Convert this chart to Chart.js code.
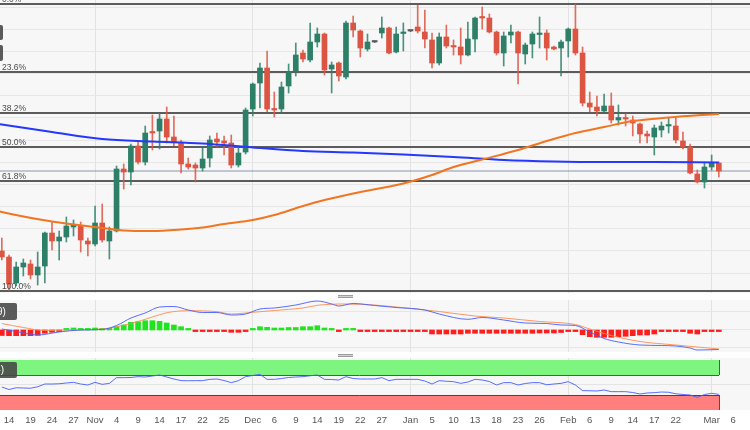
<!DOCTYPE html>
<html>
<head>
<meta charset="utf-8">
<script src="https://cdn.jsdelivr.net/npm/chart.js@4.4.1/dist/chart.umd.min.js"></script>
<style>
html,body{margin:0;padding:0;background:#fff;width:750px;height:430px;overflow:hidden;position:relative;font-family:"Liberation Sans",Arial,sans-serif}
canvas{position:absolute;left:0}
#cMain{top:0}
#cMacd{top:300px}
#cRsi{top:358px}
.handle{position:absolute;left:338px;width:15px;height:1px;border-top:1px solid #9c9c9c;border-bottom:1px solid #9c9c9c;background:#d2d2d2}
.tag{position:absolute;box-sizing:border-box;background:rgba(70,70,70,0.88);color:#fff;font-size:10px;white-space:nowrap;text-align:right;border-radius:2px;overflow:hidden}
</style>
</head>
<body>
<canvas id="cMain" width="750" height="293"></canvas>
<canvas id="cMacd" width="750" height="52"></canvas>
<canvas id="cRsi" width="750" height="72"></canvas>
<div class="handle" style="top:295px"></div>
<div class="handle" style="top:354px"></div>
<div class="tag" style="left:-77px;top:25px;width:80px;height:15px;line-height:15px;padding-right:6px">SMA (100)</div>
<div class="tag" style="left:-77px;top:45px;width:80px;height:16px;line-height:16px;padding-right:6px">SMA (200)</div>
<div class="tag" style="left:-72px;top:303px;width:89px;height:17px;line-height:17px;padding-right:13px">MACD (12, 26, 9)</div>
<div class="tag" style="left:-50px;top:362px;width:67px;height:16px;line-height:16px;padding-right:13px">RSI (14)</div>
<script>
// ---------------- DATA ----------------
const firstDay = '2022-10-13';            // first visible daily candle
const tickDates = ['2022-10-14','2022-10-19','2022-10-24','2022-10-27','2022-11-01','2022-11-04','2022-11-09','2022-11-14','2022-11-17','2022-11-22','2022-11-25','2022-12-01','2022-12-06','2022-12-09','2022-12-14','2022-12-19','2022-12-22','2022-12-27','2023-01-02','2023-01-05','2023-01-10','2023-01-13','2023-01-18','2023-01-23','2023-01-26','2023-02-01','2023-02-06','2023-02-09','2023-02-14','2023-02-17','2023-02-22','2023-03-01','2023-03-06'];
const tickLabels = ['14','19','24','27','Nov','4','9','14','17','22','25','Dec','6','9','14','19','22','27','Jan','5','10','13','18','23','26','Feb','6','9','14','17','22','Mar','6'];

const opens = [1078,1066,1014,1046,1052,1030,1048,1114,1098,1106,
 1126,1128,1098,1092,1134,1098,1118,1242,1236,1288,
 1256,1316,1318,1342,1306,1294,1252,1250,1244,1264,
 1302,1298,1294,1250,1276,1362,1414,1444,1362,1362,
 1408,1438,1474,1460,1496,1512,1442,1454,1426,1534,
 1518,1482,1496,1514,1524,1476,1513,1518,1526,1516,
 1500,1454,1506,1488,1486,1470,1502,1546,1544,1516,
 1474,1510,1516,1472,1492,1511,1514,1486,1484,1498,
 1522,1474,1374,1366,1358,1368,1340,1344,1340,1332,
 1312,1306,1320,1328,1328,1298,1286,1232,1216,1246,
 1254];
const highs = [1104,1070,1056,1062,1060,1076,1116,1136,1118,1146,
 1140,1136,1104,1168,1172,1126,1248,1252,1292,1296,
 1328,1350,1354,1366,1348,1300,1264,1254,1284,1308,
 1314,1308,1310,1286,1364,1414,1454,1478,1396,1416,
 1452,1494,1480,1534,1524,1514,1456,1456,1538,1548,
 1520,1512,1498,1546,1526,1526,1534,1519,1570,1560,
 1514,1514,1530,1500,1524,1536,1546,1566,1552,1518,
 1516,1530,1518,1494,1516,1546,1520,1488,1500,1524,
 1572,1486,1396,1388,1392,1394,1370,1352,1348,1334,
 1318,1330,1336,1344,1344,1316,1292,1240,1254,1270,
 1256];
const lows = [1060,999,1008,1028,1022,1010,1014,1080,1060,1096,
 1108,1076,1068,1088,1096,1062,1116,1202,1210,1252,
 1250,1280,1282,1294,1288,1234,1242,1216,1238,1246,
 1286,1270,1244,1246,1272,1348,1364,1356,1346,1354,
 1394,1428,1456,1456,1486,1430,1394,1418,1422,1506,
 1466,1478,1495,1504,1472,1474,1478,1517,1514,1484,
 1444,1450,1484,1470,1452,1468,1476,1522,1514,1470,
 1448,1494,1412,1452,1464,1484,1460,1480,1428,1466,
 1470,1368,1356,1348,1356,1334,1330,1328,1308,1294,
 1294,1270,1306,1314,1294,1282,1232,1214,1204,1240,
 1226];
const closes = [1066,1012,1046,1054,1030,1046,1114,1098,1106,1128,
 1130,1100,1092,1134,1100,1118,1242,1236,1288,1256,
 1314,1314,1342,1306,1296,1252,1246,1244,1262,1300,
 1296,1294,1250,1274,1360,1412,1444,1362,1360,1406,
 1436,1470,1462,1496,1512,1440,1450,1428,1534,1520,
 1484,1496,1496,1524,1474,1512,1515,1518,1518,1502,
 1454,1506,1488,1486,1470,1502,1544,1544,1516,1474,
 1508,1516,1474,1490,1512,1513,1484,1482,1496,1522,
 1474,1374,1366,1358,1368,1340,1345,1342,1334,1312,
 1308,1324,1328,1330,1300,1286,1234,1216,1246,1254,
 1238];

// moving averages (bar index -> value)
const sma200Idx = [-1,0,7,14,21,28,35,42,49,56,63,70,77,84,91,100];
const sma200 = [1333,1331,1316,1302,1297,1293,1285,1278,1275,1271,1266,1260,1257,1256,1256,1255];
const sma100Idx = [-1,0,7,14,17,21,25,28,31,35,38,42,45,49,56,60,63,67,72,76,80,84,88,93,100];
const sma100 = [1160,1156,1137,1124,1119,1118,1121,1125,1132,1140,1150,1168,1180,1193,1213,1230,1246,1261,1280,1298,1314,1326,1338,1345,1352];

const fibRatios = [0, 0.236, 0.382, 0.5, 0.618, 1];
const fibLabels = ['0.0%','23.6%','38.2%','50.0%','61.8%','100.0%'];

// MACD panel
const macdIdx = [0,2,5,8,11,14,16,18,20,22,24,26,28,30,32,34,36,38,41,44,46,47,49,52,55,59,61,65,67,70,73,76,78,80,82,84,86,89,92,94,96,97,100];
const macdLine = [1,-1.5,-5,-2,0,0.5,4.5,12,17,23,23.5,20,17.5,17.5,15,16,21,22,25,29,26,24,26.5,24.5,22.5,20,16,10.7,12.5,10,7,6.5,5,4.5,-2,-8.5,-12,-15,-15.5,-16,-18,-20,-19.5];
const signalIdx = [0,3,6,9,14,18,21,23,26,30,32,35,38,42,44,48,52,57,61,66,70,75,80,82,85,89,94,100];
const signalLine = [6.5,2.5,-0.5,0,1,6.5,13,17.3,19.3,18.3,16,17.7,19.5,22,24.7,26,25,21.5,18.5,14,12,8.5,5.5,1,-5.5,-11.5,-15,-19];
const macdHist = [-5.5,-5.7,-5.7,-5.7,-5.7,-5.3,-3.3,-2.3,-1,1.5,
 2,1.5,1.5,2,1.5,1.5,3.3,5,7.7,8.3,
 9.3,9.3,8.7,7,5,3.3,1,-0.5,-0.5,-0.5,
 -0.5,-1,-2.3,-2.3,-0.5,1,3.3,2.7,2,2,
 2.5,2.5,3.3,3.3,4.3,2,0.5,-0.5,0.5,0.5,
 -0.5,-0.5,-0.5,-0.5,-0.5,-0.5,-0.5,-0.5,-0.5,-0.5,
 -4,-4,-4,-4,-4,-3.3,-3.3,-3.3,-3.3,-3.3,
 -3.3,-3.3,-3.3,-3.3,-3.3,-3,-3,-3,-2.5,-1,
 -0.5,-4.7,-6.7,-7.3,-7.3,-7.3,-6.7,-6.3,-5.7,-5,
 -5,-4,-1,-1,-1,-1,-3.3,-4,-1,-1,
 -1];

// RSI panel
const rsi = [46,41,44.5,44,43.5,46.5,52,52,52.5,54,
 55.3,52,50,55.3,51.3,53.3,64.7,64.7,65,66.7,
 66,68,70,66,62,58.7,58.5,58.7,58.7,61.3,
 62,59,54.7,58.7,66.7,69,71.3,61.3,61.3,63,
 65,66,66.7,68.5,70,61.3,61,60,66.7,63,
 62,62,62,64.7,58.7,61.3,61.3,61.3,61.3,58,
 52,58.7,57.5,56.7,53.3,56,61.3,60,57,50,
 54.7,54.7,50,53,54.7,54.7,50.5,52,53.3,56.7,
 50,38.7,38.5,38,40,36.7,36.7,36.7,35,32,
 34,34.7,36,35.5,32.5,31,30,25.3,31,33.3,
 31.3];
const rsiUpper = [70, 100];
const rsiLower = [0, 30];

// ---------------- STYLE / LAYOUT ----------------
const X_MIN = -0.255, X_MAX = 104.35;
const PLOT_BG = '#f7f7f7';
const UP = '#2d7f67', DOWN = '#dc5542', DOJI = '#5a5a5a';
const UP_W = 'rgba(45,127,103,0.85)', DOWN_W = 'rgba(220,85,66,0.85)';
Chart.defaults.font.family = '"Liberation Sans", Arial, sans-serif';

// build trading-day list
const dayList = [];
{
  const d = new Date(firstDay + 'T00:00:00Z');
  while (dayList.length < 110) {
    const wd = d.getUTCDay();
    if (wd !== 0 && wd !== 6) dayList.push(d.toISOString().slice(0, 10));
    d.setUTCDate(d.getUTCDate() + 1);
  }
}
const tickIdx = tickDates.map(t => dayList.indexOf(t));
const monthTicks = new Set(tickIdx.filter((v, k) => isNaN(Number(tickLabels[k]))));
const idx = opens.map((_, i) => i);
const dirOf = i => closes[i] > opens[i] ? 1 : (closes[i] < opens[i] ? -1 : 0);
const bodyCol = i => dirOf(i) > 0 ? UP : dirOf(i) < 0 ? DOWN : DOJI;
const wickCol = i => dirOf(i) > 0 ? UP_W : dirOf(i) < 0 ? DOWN_W : DOJI;
const pts = (xs, ys) => xs.map((x, k) => ({x, y: ys[k]}));

const fibHigh = Math.max(...highs), fibLow = Math.min(...lows);
const lastClose = closes[closes.length - 1];

function xAxis(withLabels) {
  return {
    type: 'linear', min: X_MIN, max: X_MAX, offset: false, bounds: 'data',
    afterBuildTicks: s => { s.ticks = tickIdx.map(v => ({value: v})); },
    afterFit: s => { s.height = withLabels ? 20 : 0; s.paddingLeft = 0; s.paddingRight = 0; },
    ticks: { display: withLabels, autoSkip: false, maxRotation: 0, minRotation: 0, padding: 5,
             color: '#555', font: {size: 9.5}, callback: (v, i) => tickLabels[i] },
    grid: { drawTicks: false, offset: false, lineWidth: 1,
            color: c => (c.tick && monthTicks.has(c.tick.value)) ? '#e2e2e2' : 'rgba(0,0,0,0)' },
    border: { display: false }
  };
}
function yAxis(min, max, gridVals, color) {
  return {
    type: 'linear', min, max, bounds: 'data', beginAtZero: false,
    afterBuildTicks: s => { s.ticks = gridVals.map(v => ({value: v})); },
    afterFit: s => { s.width = 0; },
    ticks: { display: false },
    grid: { drawTicks: false, color, lineWidth: 1 },
    border: { display: false }
  };
}
const bgPlugin = {
  id: 'plotbg',
  beforeDraw(chart) {
    const {ctx, chartArea: a} = chart;
    ctx.save(); ctx.fillStyle = PLOT_BG;
    ctx.fillRect(a.left, a.top, a.right - a.left, a.bottom - a.top);
    ctx.restore();
  }
};
const baseOpts = {
  responsive: false, animation: false, devicePixelRatio: 1, events: [],
  layout: { padding: 0, autoPadding: false },
  plugins: { legend: { display: false }, tooltip: { enabled: false } }
};

// ---------------- MAIN PRICE PANEL ----------------
const PRICE_MIN = 994, PRICE_MAX = 1580;
const priceGrid = [];
for (let v = 1034; v < PRICE_MAX; v += 44.3) priceGrid.push(v);

const fibPlugin = {
  id: 'fib',
  beforeDatasetsDraw(chart) {
    const {ctx, chartArea: a, scales: {y}} = chart;
    ctx.save();
    ctx.strokeStyle = '#5c5c5c'; ctx.lineWidth = 2;
    fibRatios.forEach(r => {
      const py = Math.round(y.getPixelForValue(fibHigh - r * (fibHigh - fibLow)));
      ctx.beginPath(); ctx.moveTo(a.left, py); ctx.lineTo(a.right, py); ctx.stroke();
    });
    ctx.restore();
  },
  afterDatasetsDraw(chart) {
    const {ctx, chartArea: a, scales: {y}} = chart;
    ctx.save();
    ctx.fillStyle = '#4a4a4a'; ctx.font = '8.5px "Liberation Sans", Arial, sans-serif';
    ctx.textBaseline = 'alphabetic';
    fibRatios.forEach((r, k) => {
      const py = Math.round(y.getPixelForValue(fibHigh - r * (fibHigh - fibLow)));
      ctx.fillText(fibLabels[k], a.left + 2, py - 2);
    });
    ctx.restore();
  }
};

new Chart(document.getElementById('cMain'), {
  type: 'bar',
  data: { datasets: [
    { type: 'line', label: 'SMA 100', data: pts(sma100Idx, sma100), borderColor: '#f27522', borderWidth: 2,
      pointRadius: 0, cubicInterpolationMode: 'monotone', order: 0 },
    { type: 'line', label: 'SMA 200', data: pts(sma200Idx, sma200), borderColor: '#2438ff', borderWidth: 2,
      pointRadius: 0, cubicInterpolationMode: 'monotone', order: 0 },
    { type: 'line', label: 'Last', data: [{x: X_MIN, y: lastClose}, {x: X_MAX, y: lastClose}],
      borderColor: 'rgba(100,118,150,0.75)', borderWidth: 1, pointRadius: 0, order: 3 },
    { type: 'bar', label: 'wick', data: idx.map(i => ({x: i, y: [lows[i], highs[i]]})),
      backgroundColor: c => wickCol(c.dataIndex), barThickness: 1, grouped: false, order: 2 },
    { type: 'bar', label: 'body', data: idx.map(i => ({x: i, y: [opens[i], closes[i]]})),
      backgroundColor: c => bodyCol(c.dataIndex), barThickness: 5, minBarLength: 1.5, grouped: false, order: 1 }
  ]},
  options: Object.assign({}, baseOpts, {
    scales: { x: xAxis(false), y: yAxis(PRICE_MIN, PRICE_MAX, priceGrid, '#e7e7e7') }
  }),
  plugins: [bgPlugin, fibPlugin]
});

// ---------------- MACD PANEL ----------------
new Chart(document.getElementById('cMacd'), {
  type: 'bar',
  data: { datasets: [
    { type: 'line', data: pts(macdIdx, macdLine), borderColor: 'rgba(70,95,255,0.9)', borderWidth: 1,
      pointRadius: 0, cubicInterpolationMode: 'monotone', order: 0 },
    { type: 'line', data: pts(signalIdx, signalLine), borderColor: 'rgba(255,140,80,0.9)', borderWidth: 1,
      pointRadius: 0, cubicInterpolationMode: 'monotone', order: 0 },
    { type: 'bar', data: idx.map(i => ({x: i, y: macdHist[i]})),
      backgroundColor: c => macdHist[c.dataIndex] >= 0 ? '#21e421' : '#ff1e1e',
      barThickness: 5, minBarLength: 1.6, grouped: false, order: 2 }
  ]},
  options: Object.assign({}, baseOpts, {
    scales: { x: xAxis(false), y: yAxis(-22, 30, [19, 1, -17], '#e6e6e6') }
  }),
  plugins: [bgPlugin]
});

// ---------------- RSI PANEL ----------------
const bandPlugin = {
  id: 'bands',
  beforeDatasetsDraw(chart) {
    const {ctx, chartArea: a, scales: {x, y}} = chart;
    const xr = Math.round(x.getPixelForValue(idx.length - 1));
    ctx.save();
    const band = (lo, hi, fill, edge, edgeVal) => {
      const t = y.getPixelForValue(hi), b = y.getPixelForValue(lo);
      ctx.fillStyle = fill; ctx.fillRect(a.left, t, xr - a.left, b - t);
      ctx.strokeStyle = edge; ctx.lineWidth = 1;
      const ey = Math.round(y.getPixelForValue(edgeVal)) + 0.5;
      ctx.beginPath(); ctx.moveTo(a.left, ey); ctx.lineTo(xr, ey); ctx.stroke();
      ctx.beginPath(); ctx.moveTo(xr + 0.5, t); ctx.lineTo(xr + 0.5, b); ctx.stroke();
    };
    band(rsiUpper[0], rsiUpper[1], '#7ef57e', 'rgba(40,90,40,0.9)', rsiUpper[0]);
    band(rsiLower[0], rsiLower[1], '#ff7f7f', 'rgba(95,45,45,0.9)', rsiLower[1]);
    ctx.restore();
  }
};
new Chart(document.getElementById('cRsi'), {
  type: 'line',
  data: { datasets: [
    { data: pts(idx, rsi), borderColor: 'rgba(70,95,255,0.9)', borderWidth: 1, pointRadius: 0, tension: 0 }
  ]},
  options: Object.assign({}, baseOpts, {
    scales: { x: xAxis(true), y: yAxis(0, 104, [50], '#e4e4e4') }
  }),
  plugins: [bgPlugin, bandPlugin]
});
</script>
</body>
</html>
